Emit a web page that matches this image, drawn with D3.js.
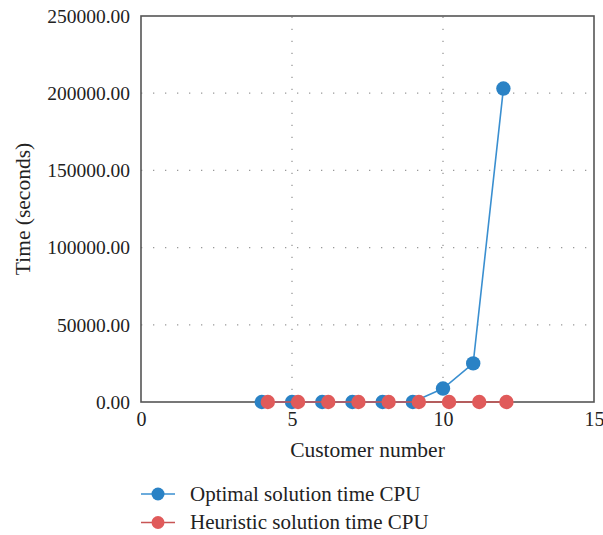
<!DOCTYPE html>
<html>
<head>
<meta charset="utf-8">
<script src="https://cdn.jsdelivr.net/npm/d3@7"></script>
<style>
  body { margin: 0; background: #fff; }
  text { font-family: "Liberation Serif", "DejaVu Serif", serif; fill: #222; }
</style>
</head>
<body>
<div id="chart"></div>
<script>
// data
const optimalX = [4, 5, 6, 7, 8, 9, 10, 11, 12];
const optimalY = [0, 0, 0, 0, 0, 0, 8700, 25000, 203000];
const heuristicX = [4.2, 5.2, 6.2, 7.2, 8.2, 9.2, 10.2, 11.2, 12.1];
const heuristicY = [0, 0, 0, 0, 0, 0, 0, 0, 0];
const xTicks = [0, 5, 10, 15];
const yTicks = [0, 50000, 100000, 150000, 200000, 250000];
const seriesNames = ["Optimal solution time CPU", "Heuristic solution time CPU"];
const colors = ["#2a82c5", "#e05a5a"];
const lineColors = ["#3a8fd0", "#c85555"];

const width = 603, height = 535;
const margin = { left: 141, right: 9, top: 16, bottom: 133 };

const svg = d3.select('#chart')
  .append('svg')
  .attr('width', width)
  .attr('height', height);

const x = d3.scaleLinear().domain([0, 15]).range([margin.left, width - margin.right]);
const y = d3.scaleLinear().domain([0, 250000]).range([height - margin.bottom, margin.top]);

// dotted grid
svg.append('g')
  .selectAll('line')
  .data(xTicks.slice(1, -1))
  .enter()
  .append('line')
  .attr('x1', d => x(d)).attr('x2', d => x(d))
  .attr('y1', y(0)).attr('y2', y(250000))
  .attr('stroke', '#999')
  .attr('stroke-width', 1.3)
  .attr('stroke-dasharray', '1.3,10.7');

svg.append('g')
  .selectAll('line')
  .data(yTicks.slice(1, -1))
  .enter()
  .append('line')
  .attr('x1', x(0)).attr('x2', x(15))
  .attr('y1', d => y(d)).attr('y2', d => y(d))
  .attr('stroke', '#999')
  .attr('stroke-width', 1.3)
  .attr('stroke-dasharray', '1.3,10.7');

// frame
svg.append('rect')
  .attr('x', x(0)).attr('y', y(250000))
  .attr('width', x(15) - x(0)).attr('height', y(0) - y(250000))
  .attr('fill', 'none')
  .attr('stroke', '#555')
  .attr('stroke-width', 1.6);

// axes
const xAxis = svg.append('g')
  .attr('transform', `translate(0,${y(0)})`)
  .call(d3.axisBottom(x).tickValues(xTicks).tickSize(0).tickPadding(10).tickFormat(d3.format('d')));
xAxis.select('.domain').remove();
xAxis.selectAll('text').attr('font-size', 20).attr('font-family', '"Liberation Serif", serif');

const yAxis = svg.append('g')
  .attr('transform', `translate(${x(0)},0)`)
  .call(d3.axisLeft(y).tickValues(yTicks).tickSize(0).tickPadding(11).tickFormat(d3.format('.2f')));
yAxis.select('.domain').remove();
yAxis.selectAll('text').attr('font-size', 19.5).attr('font-family', '"Liberation Serif", serif');

svg.append('text')
  .attr('x', (x(0) + x(15)) / 2)
  .attr('y', 457)
  .attr('text-anchor', 'middle')
  .attr('font-size', 21.5)
  .text('Customer number');

svg.append('text')
  .attr('transform', `translate(30,${(y(0) + y(250000)) / 2}) rotate(-90)`)
  .attr('text-anchor', 'middle')
  .attr('font-size', 21.5)
  .text('Time (seconds)');

// series
const series = [
  optimalX.map((d, i) => [d, optimalY[i]]),
  heuristicX.map((d, i) => [d, heuristicY[i]])
];
const line = d3.line().x(d => x(d[0])).y(d => y(d[1]));

series.forEach((pts, k) => {
  const g = svg.append('g');
  g.append('path')
    .attr('d', line(pts))
    .attr('fill', 'none')
    .attr('stroke', lineColors[k])
    .attr('stroke-width', 1.6);
  g.selectAll('circle')
    .data(pts)
    .enter()
    .append('circle')
    .attr('cx', d => x(d[0]))
    .attr('cy', d => y(d[1]))
    .attr('r', 7.2)
    .attr('fill', colors[k]);
});

// legend
const legend = svg.append('g');
seriesNames.forEach((name, k) => {
  const ly = 494 + k * 28.5;
  legend.append('line')
    .attr('x1', 141).attr('x2', 175)
    .attr('y1', ly).attr('y2', ly)
    .attr('stroke', lineColors[k])
    .attr('stroke-width', 1.6);
  legend.append('circle')
    .attr('cx', 158).attr('cy', ly)
    .attr('r', 6.5)
    .attr('fill', colors[k]);
  legend.append('text')
    .attr('x', 190).attr('y', ly + 6.5)
    .attr('font-size', 21)
    .text(name);
});
</script>
</body>
</html>
